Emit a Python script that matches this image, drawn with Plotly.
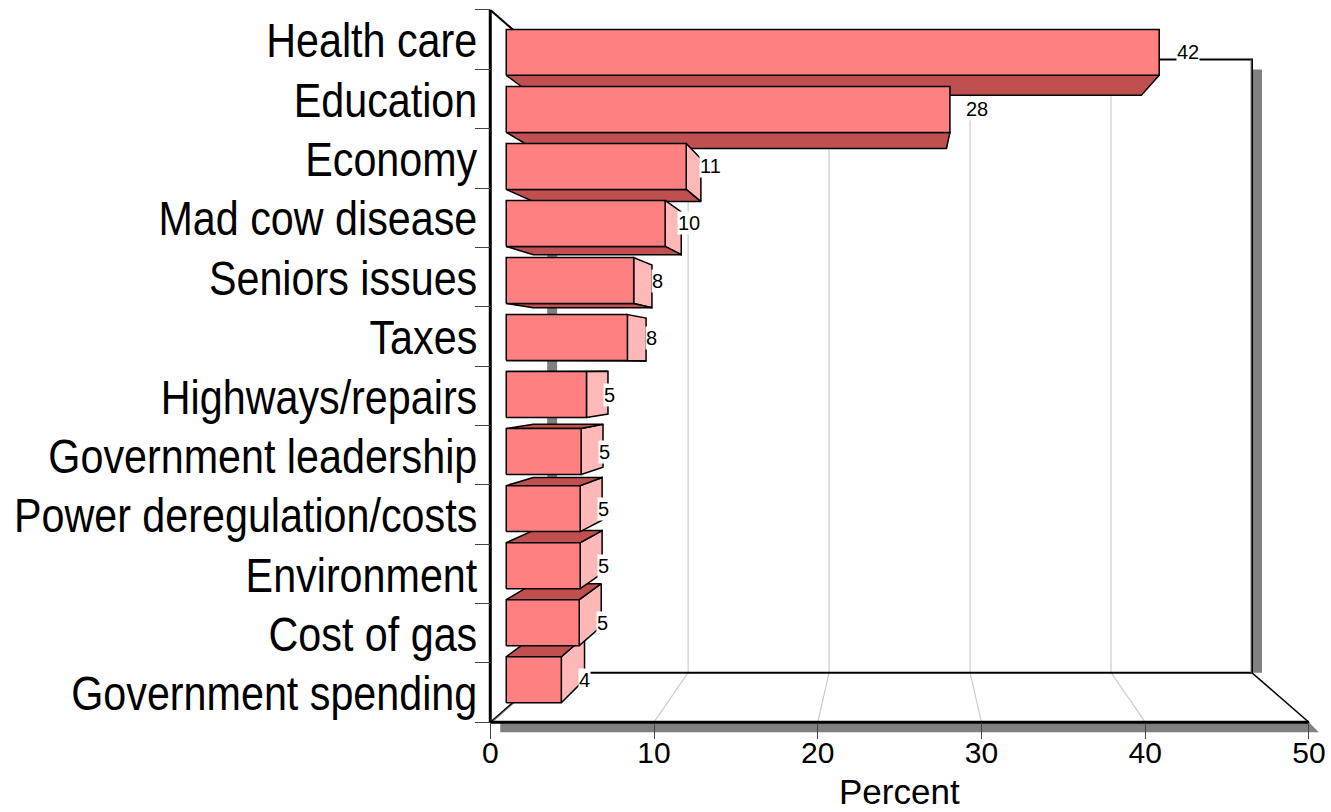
import plotly.graph_objects as go

categories = ["Health care", "Education", "Economy", "Mad cow disease", "Seniors issues", "Taxes",
              "Highways/repairs", "Government leadership", "Power deregulation/costs", "Environment",
              "Cost of gas", "Government spending"]
values = [41.5, 28.2, 11.44, 10.1, 8.1, 7.7, 5.1, 4.76, 4.7, 4.7, 4.64, 3.5]
value_labels = ["42", "28", "11", "10", "8", "8", "5", "5", "5", "5", "5", "4"]
x_ticks = [0, 10, 20, 30, 40, 50]
x_title = "Percent"

FACE_FRONT = "#FF8080"
FACE_CAP = "#C05050"
FACE_SIDE = "#FFB8B8"
SHADOW = "#808080"
GRID = "#CCCCCC"
INK = "#000000"

XMAX, YMAX = 50, 12
VX, VY = XMAX / 2, YMAX / 2
S_WALL, S_FRONT, S_BACK, S_LABEL = 0.861, 0.961, 0.895, 0.97
BAR_HALF = 0.403
SHX, SHY = 0.61, 0.169
LABEL_DX = 1.6

# page geometry: axis origin and scale, in page pixels
PX_X0, PX_UNIT_X = 490, 819 / 50
PX_Y0, PX_UNIT_Y = 722, 712 / 12
X_LO, X_HI = -0.2, 50.8
Y_LO, Y_HI = -0.2, 12.05
FIG_W, FIG_H = 1331, 812
m_l = PX_X0 + X_LO * PX_UNIT_X
m_r = FIG_W - (PX_X0 + X_HI * PX_UNIT_X)
m_t = PX_Y0 - Y_HI * PX_UNIT_Y
m_b = FIG_H - (PX_Y0 - Y_LO * PX_UNIT_Y)


def proj(x, y, s):
    return VX + (x - VX) * s, VY + (y - VY) * s


fig = go.Figure()


def poly(points, fill=None, line="black", width=1.5):
    xs = [p[0] for p in points]
    ys = [p[1] for p in points]
    kw = dict(fill="toself", fillcolor=fill) if fill else {}
    if fill:
        xs, ys = xs + xs[:1], ys + ys[:1]
    fig.add_trace(go.Scatter(x=xs, y=ys, mode="lines", line=dict(color=line, width=width),
                             showlegend=False, hoverinfo="skip", **kw))


wall_l, wall_b = proj(0, 0, S_WALL)
wall_r, wall_t = proj(XMAX, YMAX, S_WALL)

# shadows
poly([(wall_r, wall_t - SHY), (wall_r + SHX, wall_t - SHY), (wall_r + SHX, wall_b), (wall_r, wall_b)],
     SHADOW, SHADOW, 0)
poly([(wall_l, wall_t - SHY), (wall_l + SHX, wall_t - SHY), (wall_l + SHX, wall_b), (wall_l, wall_b)],
     SHADOW, SHADOW, 0)
poly([(SHX, 0), (XMAX, 0), (XMAX + SHX, -SHY), (SHX, -SHY)], SHADOW, SHADOW, 0)

# floor grid and wall grid
for t in x_ticks[1:-1]:
    bx, by = proj(t, 0, S_WALL)
    tx, ty = proj(t, YMAX, S_WALL)
    poly([(t, 0), (bx, by), (tx, ty)], None, GRID, 1.2)

# floor edges and wall outline
poly([(XMAX + 0.06, -0.02), (wall_r + 0.06, wall_b - 0.02)], None, SHADOW, 1.5)
poly([(XMAX, 0), (wall_r, wall_b)], None, "black", 1.3)
poly([(0.08, 0), (wall_l + 0.08, wall_b)], None, SHADOW, 1.5)
poly([(0, 0), (wall_l, wall_b)], None, "black", 1.3)
poly([(0, YMAX), (wall_l, wall_t)], None, "black", 2)
poly([(wall_l, wall_t), (wall_r, wall_t), (wall_r, wall_b), (wall_l, wall_b)], None, "black", 2)
poly([(wall_r - 0.06, wall_t), (wall_r - 0.06, wall_b)], None, SHADOW, 1)

# axis lines
poly([(0, 0), (XMAX, 0)], None, "black", 3)
poly([(0, 0), (0, YMAX)], None, "black", 3)

# bars, outermost first so nearer-centre bars occlude correctly
n = len(categories)
centres = [n - 0.5 - i for i in range(n)]
order = sorted(range(n), key=lambda i: -abs(centres[i] - VY))
for i in order:
    v, c = values[i], centres[i]
    y0, y1 = c - BAR_HALF, c + BAR_HALF
    if v < VX:
        poly([proj(v, y0, S_FRONT), proj(v, y1, S_FRONT), proj(v, y1, S_BACK), proj(v, y0, S_BACK)], FACE_SIDE)
    edge = y0 if c > VY else y1
    poly([proj(0, edge, S_FRONT), proj(v, edge, S_FRONT), proj(v, edge, S_BACK), proj(0, edge, S_BACK)], FACE_CAP)
    poly([proj(0, y0, S_FRONT), proj(v, y0, S_FRONT), proj(v, y1, S_FRONT), proj(0, y1, S_FRONT)], FACE_FRONT)

# value labels
for i in range(n):
    lx, _ = proj(values[i], centres[i], S_LABEL)
    _, ly = proj(values[i], centres[i], S_FRONT)
    fig.add_annotation(x=lx + LABEL_DX, y=ly, text=value_labels[i], showarrow=False, bgcolor="white",
                       borderpad=0, font=dict(family="Liberation Sans", size=20, color=INK))

# axis title below the tick labels; paper reference because it lies outside the plot area
fig.add_annotation(x=XMAX / 2, xref="x", y=(-1.17 - Y_LO) / (Y_HI - Y_LO), yref="paper", text=x_title,
                   showarrow=False, yanchor="middle",
                   font=dict(family="Liberation Sans", size=35, color=INK))

fig.update_layout(
    width=FIG_W, height=FIG_H, autosize=False,
    margin=dict(l=m_l, r=m_r, t=m_t, b=m_b, pad=0),
    paper_bgcolor="white", plot_bgcolor="white",
    showlegend=False,
    xaxis=dict(range=[X_LO, X_HI], tickvals=x_ticks, ticks="outside", ticklen=16, tickwidth=1, tickcolor="#444444",
               automargin=False, anchor="free", position=(0 - Y_LO) / (Y_HI - Y_LO),
               ticklabelstandoff=-12,
               showgrid=False, zeroline=False, showline=False,
               tickfont=dict(family="Liberation Sans", size=30, color=INK)),
    yaxis=dict(range=[Y_LO, Y_HI], tickvals=centres, ticktext=categories, ticks="", ticklen=0,
               ticklabelstandoff=13, automargin=False, anchor="free", position=(0 - X_LO) / (X_HI - X_LO),
               minor=dict(tickvals=list(range(YMAX + 1)), ticks="outside", ticklen=15, tickwidth=1, tickcolor="#444444"),
               showgrid=False, zeroline=False, showline=False,
               tickfont=dict(family="Liberation Sans", size=48, color=INK)),
)

# no page margin, and the reference's category labels are set in a horizontally condensed face
page_fix = """
document.body.style.margin = '0';
var gd = document.getElementById('{plot_id}');
gd.querySelectorAll('.ytick text').forEach(function (t) {
  var x = t.getAttribute('x'), prev = t.getAttribute('transform') || '';
  t.setAttribute('transform', prev + ' translate(' + x + ' 1) scale(0.86 1) translate(' + (-x) + ' 0)');
});
"""
fig.write_html("out.html", post_script=page_fix, config={"displayModeBar": False})
